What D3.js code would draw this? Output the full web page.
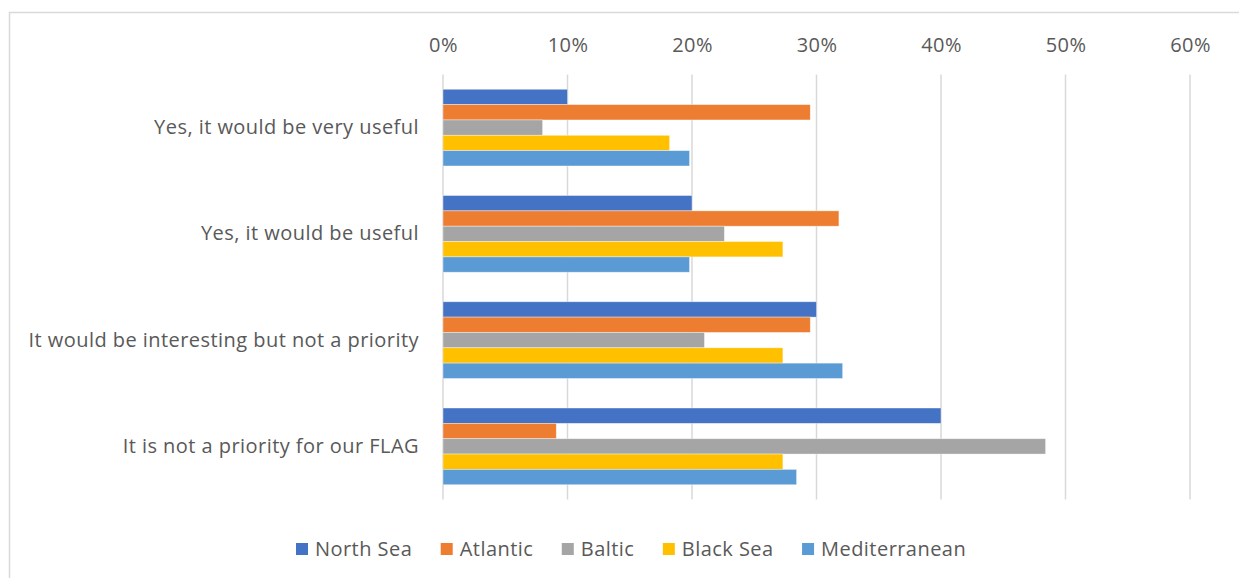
<!DOCTYPE html>
<html><head><meta charset="utf-8">
<script src="https://cdn.jsdelivr.net/npm/d3@7"></script>
<style>body{margin:0;background:#fff}svg{display:block}text{font-family:"Open Sans",sans-serif;fill:#595959;letter-spacing:0.45px}</style>
</head><body><svg id="c" width="1239" height="578"></svg>
<script>
const categories = ["Yes, it would be very useful","Yes, it would be useful","It would be interesting but not a priority","It is not a priority for our FLAG"];
const seriesNames = ["North Sea","Atlantic","Baltic","Black Sea","Mediterranean"];
const colors = ["#4472C4","#ED7D31","#A5A5A5","#FFC000","#5B9BD5"];
const northSea = [10, 20, 30, 40];
const atlantic = [29.5, 31.8, 29.5, 9.1];
const baltic = [8.0, 22.6, 21.0, 48.4];
const blackSea = [18.2, 27.3, 27.3, 27.3];
const mediterranean = [19.8, 19.8, 32.1, 28.4];
const tickValues = [0,10,20,30,40,50,60];
const seriesValues = [northSea, atlantic, baltic, blackSea, mediterranean];

const FS = 20;
const svg = d3.select("#c");
svg.append("path").attr("d","M9.5,578 V12.5 H1239").attr("fill","none").attr("stroke","#D9D9D9").attr("stroke-width",1.5);

const x = d3.scaleLinear().domain([0,60]).range([443,1190]);
const y = d3.scaleBand().domain(categories).range([74.5,499.5]).paddingInner(0.278).paddingOuter(0.139);
const ySub = d3.scaleBand().domain(seriesNames).range([0,y.bandwidth()]);

svg.append("g").selectAll("line").data(tickValues).join("line")
  .attr("x1",d=>x(d)).attr("x2",d=>x(d)).attr("y1",74.5).attr("y2",499.5)
  .attr("stroke","#D9D9D9").attr("stroke-width",1.5);

const ax = d3.axisTop(x).tickValues(tickValues).tickFormat(d=>d+"%").tickSize(0).tickPadding(0);
const axg = svg.append("g").attr("transform","translate(0,52)").call(ax);
axg.select(".domain").remove();
axg.selectAll("text").attr("font-size",FS).attr("fill","#595959").attr("font-family","'Open Sans',sans-serif").attr("dy",0);

seriesNames.forEach((s,i)=>{
  svg.append("g").selectAll("rect").data(seriesValues[i]).join("rect")
    .attr("x",x(0)).attr("y",(d,j)=>y(categories[j])+ySub(s))
    .attr("width",d=>x(d)-x(0)).attr("height",ySub.bandwidth())
    .attr("fill",colors[i]).attr("stroke","#fff").attr("stroke-opacity",0.5).attr("stroke-width",0.75);
});

const ay = d3.axisLeft(y).tickSize(0).tickPadding(0);
const ayg = svg.append("g").attr("transform","translate(419,0)").call(ay);
ayg.select(".domain").remove();
ayg.selectAll("text").attr("font-size",FS).attr("fill","#595959").attr("font-family","'Open Sans',sans-serif");

const leg = svg.append("g");
let lx = 296;
seriesNames.forEach((s,i)=>{
  leg.append("rect").attr("x",lx).attr("y",543).attr("width",12).attr("height",12).attr("fill",colors[i]);
  const t = leg.append("text").attr("x",lx+19).attr("y",556).attr("font-size",FS).text(s);
  lx += 19 + t.node().getComputedTextLength() + 28.5;
});
</script></body></html>
